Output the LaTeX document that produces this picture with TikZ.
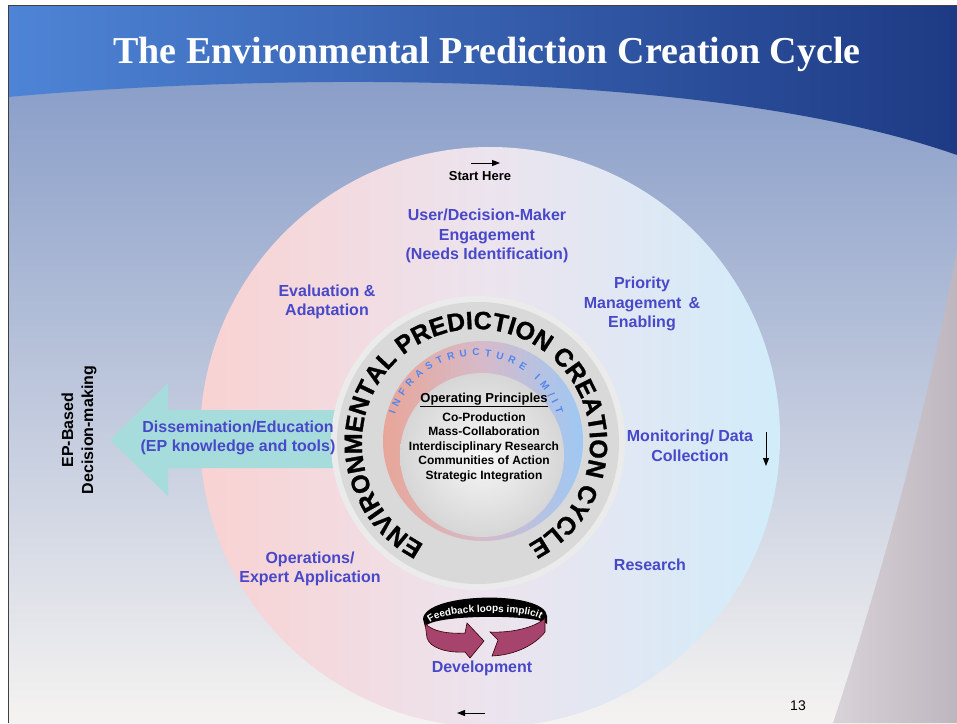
\documentclass[tikz,border=0pt]{standalone}
\usepackage{fontspec}
\setmainfont{Liberation Sans}
\newfontfamily\titlefont{Liberation Serif}
\newfontfamily\heavyfont[BoldFeatures={FakeBold=1.2}]{Liberation Sans}
\usepackage{xcolor}
\usetikzlibrary{positioning,arrows.meta,decorations.text}

\definecolor{labelblue}{RGB}{72,72,200}
\definecolor{skylight}{RGB}{78,132,214}
\definecolor{skydark}{RGB}{30,58,132}
\definecolor{slidetop}{RGB}{125,148,196}
\definecolor{slidemid}{RGB}{216,221,234}
\definecolor{slidebot}{RGB}{245,243,241}
\definecolor{cornergrey}{RGB}{190,182,190}
\definecolor{circpink}{RGB}{249,210,210}
\definecolor{circmid}{RGB}{236,228,238}
\definecolor{circblue}{RGB}{210,236,250}
\definecolor{ringpink}{RGB}{232,166,152}
\definecolor{ringmid}{RGB}{214,186,202}
\definecolor{ringblue}{RGB}{158,200,244}
\definecolor{arrowteal}{RGB}{166,220,220}
\definecolor{loopmagenta}{RGB}{166,68,110}
\definecolor{infrablue}{RGB}{80,135,240}

\tikzset{
    stage/.style={text=labelblue, font=\fontsize{16}{19.5}\selectfont\bfseries, align=center},
    principle/.style={font=\fontsize{12}{14.5}\selectfont\bfseries, align=center},
    flow/.style={-{Triangle[length=8pt,width=6pt]}, line width=1pt},
}

\begin{document}
\begin{tikzpicture}[x=1pt,y=1pt]
    \useasboundingbox (0,0) rectangle (957,-723);
    \fill[white] (0,0) rectangle (957,-723);

    % Slide background
    \begin{scope}
        \clip (8,-5) rectangle (957,-723);
        \shade[top color=slidetop, middle color=slidemid, bottom color=slidebot] (8,-5) rectangle (957,-723);
        \shade[left color=skylight, right color=skydark] (8,-5) -- (957,-5) -- (957,-155)
            .. controls (700,-65) and (250,-75) .. (8,-97) -- cycle;
        \shade[left color=cornergrey!60!white, right color=cornergrey] (957,-250)
            .. controls (925,-420) and (880,-580) .. (833,-723) -- (957,-723) -- cycle;

        % Big cycle disc
        \shade[left color=circpink, right color=circblue, middle color=circmid] (490,-437) circle[radius=290];
    \end{scope}
    \draw[black!75, line width=1pt] (8,-723) -- (8,-5) -- (957,-5);

    % Title
    \node[text=white, font=\titlefont\fontsize{38}{40}\selectfont\bfseries, anchor=base] (title) at (487,-63)
        {The Environmental Prediction Creation Cycle};

    % Dissemination arrow
    \fill[arrowteal] (110,-440) -- (168,-383) -- (168,-410) -- (355,-410) -- (355,-468)
        -- (168,-468) -- (168,-496) -- cycle;

    % Centre rings
    \fill[black!8] (478,-443) circle[radius=147];
    \fill[black!15] (478,-443) circle[radius=141];
    \shade[left color=ringpink, right color=ringblue, middle color=ringmid] (483,-441) circle[radius=100];
    \shade[inner color=black!3, outer color=black!16] (482,-455) circle[radius=82];

    \path[decorate, decoration={text along path, text align=center,
        text={|\heavyfont\fontsize{25}{25}\selectfont\bfseries|ENVIRONMENTAL PREDICTION CREATION CYCLE}}]
        (476,-443) ++(244:114) arc[start angle=244, end angle=-64, radius=114];
    \path[decorate, decoration={text along path, text align=fit to path, text color=infrablue,
        text={|\fontsize{10}{10}\selectfont\bfseries|INFRASTRUCTURE IM/IT}}]
        (476,-441) ++(162:85) arc[start angle=162, end angle=18, radius=85];

    % Operating principles
    \node[font=\fontsize{13}{15}\selectfont\bfseries] (opPrinc) at (484,-400) {\underline{Operating Principles}};
    \node[principle] (principles) at (484,-447)
        {Co-Production\\Mass-Collaboration\\Interdisciplinary Research\\Communities of Action\\Strategic Integration};

    % Cycle stages
    \node[font=\fontsize{13}{15}\selectfont\bfseries] (startHere) at (480,-176) {Start Here};
    \node[stage] (userEng) at (487,-236) {User/Decision-Maker\\Engagement\\(Needs Identification)};
    \node[stage] (priority) at (642,-304) {Priority\\Management \,\&\\Enabling};
    \node[stage] (monitor) at (690,-446) {Monitoring/ Data\\Collection};
    \node[stage] (research) at (650,-565) {Research};
    \node[stage] (development) at (482,-668) {Development};
    \node[stage] (operations) at (310,-569) {Operations/\\Expert Application};
    \node[stage] (evalAdapt) at (327,-302) {Evaluation \&\\Adaptation};
    \node[stage] (dissem) at (238,-438) {Dissemination/Education\\(EP knowledge and tools)};
    \node[font=\fontsize{16}{20}\selectfont\bfseries, align=center, rotate=90] (epBased) at (79,-430)
        {EP-Based\\Decision-making};

    % Direction arrows
    \coordinate (startA) at (471,-163);
    \coordinate (startB) at (500,-163);
    \coordinate (monA) at (766,-432);
    \coordinate (monB) at (766,-466);
    \coordinate (backA) at (485,-713);
    \coordinate (backB) at (457,-713);
    \draw[flow] (startA) -- (startB);
    \draw[flow] (monA) -- (monB);
    \draw[flow] (backA) -- (backB);

    % Feedback loop icon
    \fill[black] (423,-619) .. controls (425,-592) and (545,-590) .. (547,-616) -- (547,-624)
        .. controls (540,-614) and (430,-614) .. (425,-627) -- cycle;
    \path[decorate, decoration={text along path, text align=center, text color=white,
        text={|\fontsize{10}{10}\selectfont\bfseries|Feedback loops implicit}}]
        (428,-626) .. controls (433,-608) and (538,-608) .. (543,-622);
    \filldraw[fill=loopmagenta, draw=black!80!red, line width=0.6pt] (425,-623)
        .. controls (432,-632) and (450,-634) .. (465,-633) -- (467,-623) -- (484,-641) -- (470,-658)
        -- (465,-652) .. controls (447,-653) and (430,-648) .. (427,-638) -- cycle;
    \filldraw[fill=loopmagenta, draw=black!80!red, line width=0.6pt] (490,-632)
        .. controls (510,-633) and (535,-628) .. (545,-618) -- (545,-632)
        .. controls (535,-645) and (515,-655) .. (492,-656) -- (498,-640) -- cycle;

    % Page number
    \node[font=\fontsize{14}{16}\selectfont] (pageNo) at (798,-706) {13};
\end{tikzpicture}
\end{document}
